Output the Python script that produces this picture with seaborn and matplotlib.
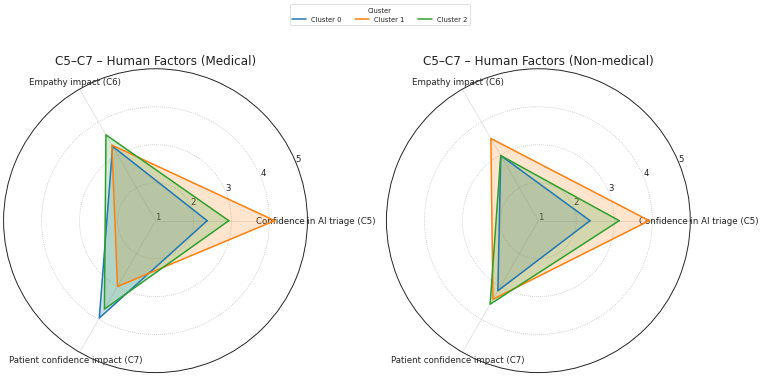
import numpy as np
import pandas as pd
import seaborn as sns
import matplotlib.pyplot as plt

categories = ['Confidence in AI triage (C5)', 'Empathy impact (C6)', 'Patient confidence impact (C7)']
clusters = ['Cluster 0', 'Cluster 1', 'Cluster 2']
palette = ['#1f77b4', '#ff7f0e', '#2ca02c']

# mean scores per cluster (C5, C6, C7)
medical_c0 = [2.36, 3.26, 3.96]
medical_c1 = [4.14, 3.30, 3.00]
medical_c2 = [2.93, 3.61, 3.69]
nonmed_c0 = [2.36, 2.98, 3.13]
nonmed_c1 = [3.92, 3.50, 3.39]
nonmed_c2 = [3.13, 2.98, 3.54]

angles = np.linspace(0, 2 * np.pi, len(categories), endpoint=False)


def to_long(values):
    rows = []
    for name, v in zip(clusters, values):
        th = list(angles) + [2 * np.pi]
        rr = list(v) + [v[0]]
        for t, r in zip(th, rr):
            rows.append({'theta': t, 'score': r, 'cluster': name})
    return pd.DataFrame(rows)


sns.set_theme(style='white')
plt.rcParams['font.family'] = ['DejaVu Sans']
plt.rcParams['text.color'] = '#222222'
plt.rcParams['xtick.color'] = '#222222'
plt.rcParams['ytick.color'] = '#222222'

fig = plt.figure(figsize=(14, 6.944), dpi=54.29)
ax1 = fig.add_axes([0.0046, 0.009, 0.4, 0.806], projection='polar')
ax2 = fig.add_axes([0.5083, 0.009, 0.4, 0.806], projection='polar')

panels = [
    (ax1, [medical_c0, medical_c1, medical_c2], 'C5–C7 – Human Factors (Medical)'),
    (ax2, [nonmed_c0, nonmed_c1, nonmed_c2], 'C5–C7 – Human Factors (Non-medical)'),
]

for ax, vals, title in panels:
    df = to_long(vals)
    sns.lineplot(data=df, x='theta', y='score', hue='cluster', palette=palette,
                 sort=False, estimator=None, linewidth=2, ax=ax)
    for (name, g), col in zip(df.groupby('cluster', sort=False), palette):
        ax.fill(g['theta'], g['score'], color=col, alpha=0.2)
    ax.set_ylim(1, 5)
    ax.set_yticks([1, 2, 3, 4, 5])
    ax.set_yticklabels(['1', '2', '3', '4', '5'], fontsize=11.5)
    ax.set_xticks(angles)
    ax.set_xticklabels(categories, fontsize=11.5)
    ax.tick_params(axis='x', pad=-2)
    ax.set_xlabel('')
    ax.set_ylabel('')
    ax.yaxis.grid(True, linestyle=':', color='#bbbbbb', linewidth=1)
    ax.xaxis.grid(True, linestyle='-', color='#dddddd', linewidth=1)
    ax.spines['polar'].set_color('#222222')
    ax.set_title(title, fontsize=16)
    handles, labels = ax.get_legend_handles_labels()
    ax.get_legend().remove()

fig.legend(handles, labels, loc='upper center', ncol=3, title='Cluster',
           fontsize=9, title_fontsize=9, bbox_to_anchor=(0.5, 0.995))

fig.savefig('out.png', dpi=54.29)
